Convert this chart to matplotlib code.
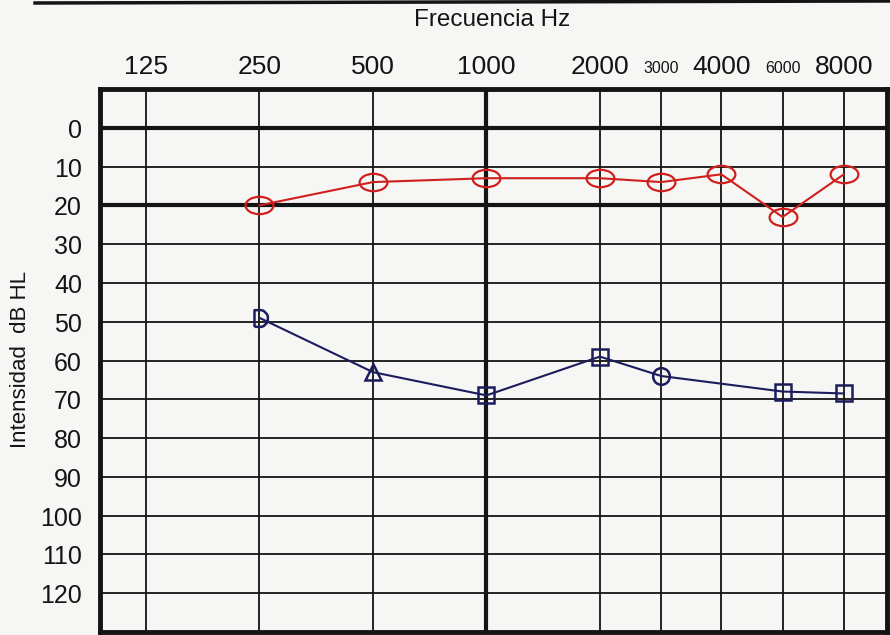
import numpy as np
import matplotlib.pyplot as plt
from matplotlib.path import Path
from matplotlib.transforms import Affine2D

# frequencies (Hz) and their column on the audiogram form
freqs = [125, 250, 500, 1000, 2000, 3000, 4000, 6000, 8000]
freq_labels = ["125", "250", "500", "1000", "2000", "3000", "4000", "6000", "8000"]
db_levels = list(range(0, 130, 10))

# right ear (red, circles)
red_freqs = [250, 500, 1000, 2000, 3000, 4000, 6000, 8000]
red_db = [20, 14, 13, 13, 14, 12, 23, 12]

# left ear (blue, mixed symbols)
blue_freqs = [250, 500, 1000, 2000, 3000, 6000, 8000]
blue_db = [49, 63, 69, 59, 64, 68, 68.5]
blue_marks = ["half", "^", "s", "s", "o", "s", "s"]

# column positions of the printed form (3000/6000 are half columns)
col = {125: 0, 250: 1, 500: 2, 1000: 3, 2000: 4, 3000: 4.54, 4000: 5.07, 6000: 5.61, 8000: 6.15}

paper = "#f6f6f4"
ink = "#141414"

fig = plt.figure(figsize=(8.9, 6.35), dpi=100, facecolor=paper)
ax = fig.add_axes([100 / 890, 3 / 635, 787 / 890, (632 - 89) / 635])
ax.set_facecolor(paper)

ax.set_xlim(-0.405, 6.53)
ax.set_ylim(130, -10)

# grid of the form
for d in range(-10, 131, 10):
    thick = d in (0, 20)
    ax.axhline(d, color=ink, lw=3.0 if thick else 1.3, zorder=1)
for f in freqs:
    thick = f == 1000
    ax.axvline(col[f], color=ink, lw=3.0 if thick else 1.3, zorder=1)
for s in ax.spines.values():
    s.set_linewidth(3.5)
    s.set_color(ink)

# ticks
ax.xaxis.tick_top()
ax.set_xticks([col[f] for f in freqs])
ax.set_xticklabels(freq_labels)
for lab, f in zip(ax.get_xticklabels(), freqs):
    lab.set_fontsize(11.5 if f in (3000, 6000) else 19)
    lab.set_family("Liberation Sans")
    if f in (3000, 6000):
        lab.set_y(1.006)
ax.set_yticks(db_levels)
ax.set_yticklabels([str(d) for d in db_levels], fontsize=18, family="Liberation Sans")
for lab in ax.get_yticklabels():
    lab.set_verticalalignment("top")
    lab.set_y(0)
ax.tick_params(axis="x", length=0, pad=7, colors=ink)
ax.tick_params(axis="y", length=0, pad=13, colors=ink)
# nudge the dB labels a little below their lines like on the form
for lab in ax.get_yticklabels():
    lab.set_va("center")
    lab.set_transform(lab.get_transform() + Affine2D().translate(0, -3))

fig.text(492 / 890, 1 - 20 / 635, "Frecuencia Hz", ha="center", va="center",
         fontsize=17.5, family=["Liberation Sans Narrow", "Liberation Sans"], color=ink)
fig.text(21 / 890, 1 - 360 / 635, "Intensidad  dB HL", ha="center", va="center",
         rotation=90, fontsize=16, family="Liberation Sans", color=ink)

# border of the box above the form
fig.add_artist(plt.Line2D([35 / 890, 1.0], [1 - 3 / 635, 1 - 1 / 635], color=ink, lw=2.5))

# red ear
ellipse = Path.unit_circle().transformed(Affine2D().scale(1.6, 1.0))
red = "#d0201e"
ax.plot([col[f] for f in red_freqs], red_db, color=red, lw=1.5, zorder=3)
ax.plot([col[f] for f in red_freqs], red_db, ls="none", marker=ellipse, ms=20,
        mfc="none", mec=red, mew=1.6, zorder=4)

# blue ear ("half" = hand drawn D shaped symbol)
arc = Path.arc(-90, 90)
dshape = Path(np.vstack([[-0.6, -1.0], [0.0, -1.0], arc.vertices[1:], [-0.6, 1.0], [-0.6, -1.0]]),
              None)
blue = "#1b1d5c"
ax.plot([col[f] for f in blue_freqs], blue_db, color=blue, lw=1.5, zorder=3)
for f, d, m in zip(blue_freqs, blue_db, blue_marks):
    mk = dshape if m == "half" else m
    ax.plot(col[f], d, marker=mk, ms=12, mfc="none", mec=blue, mew=1.8, zorder=4)

fig.savefig("out.png", dpi=100, facecolor=paper)
